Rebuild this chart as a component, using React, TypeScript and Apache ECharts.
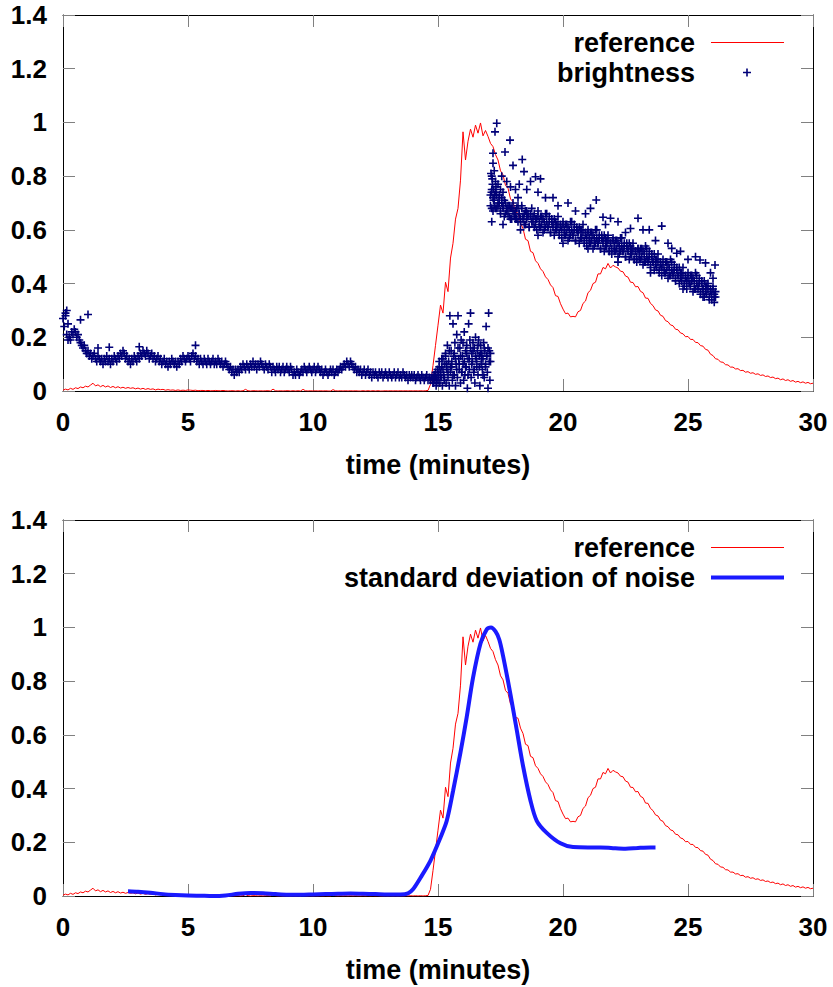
import React, { useEffect, useRef } from "react";
import * as echarts from "echarts";

// ---------- DATA ----------
// reference curve, sampled every 0.1 min from 0 to 30
const REF_START = 0;
const REF_STEP = 0.1;
const referenceValues = [
  0.003,0.007,0.004,0.010,0.006,0.012,0.009,0.015,0.012,0.018,
  0.015,0.022,0.029,0.019,0.023,0.016,0.021,0.015,0.019,0.013,
  0.017,0.012,0.016,0.011,0.014,0.010,0.013,0.010,0.012,0.008,
  0.011,0.007,0.010,0.006,0.009,0.006,0.008,0.004,0.007,0.005,
  0.006,0.003,0.005,0.003,0.004,0.002,0.004,0.002,0.003,0.002,
  0.004,0.003,0.002,0.003,0.001,0.002,0.002,0.001,0.002,0.001,
  0.001,0.002,0.001,0.001,0.002,0.001,0.000,0.001,0.001,0.000,
  0.001,0.000,0.001,0.006,0.001,0.000,0.001,0.001,0.000,0.001,
  0.000,0.001,0.001,0.000,0.007,0.001,0.000,0.001,0.000,0.001,
  0.001,0.000,0.001,0.000,0.001,0.000,0.006,0.001,0.000,0.001,
  0.000,0.001,0.000,0.001,0.000,0.001,0.000,0.000,0.005,0.001,
  0.000,0.001,0.000,0.001,0.000,0.001,0.000,0.001,0.000,0.000,
  0.001,0.000,0.001,0.000,0.001,0.000,0.001,0.000,0.000,0.001,
  0.000,0.001,0.000,0.001,0.000,0.001,0.000,0.001,0.000,0.001,
  0.000,0.001,0.000,0.001,0.000,0.001,0.002,0.025,0.095,0.170,
  0.245,0.320,0.290,0.405,0.370,0.495,0.550,0.640,0.680,0.785,
  0.965,0.860,0.930,0.975,0.945,0.990,0.960,0.998,0.950,0.970,
  0.948,0.922,0.910,0.880,0.860,0.820,0.805,0.765,0.755,0.715,
  0.705,0.665,0.662,0.625,0.605,0.565,0.560,0.520,0.515,0.485,
  0.475,0.455,0.445,0.425,0.415,0.395,0.385,0.355,0.352,0.325,
  0.305,0.288,0.290,0.276,0.278,0.276,0.295,0.300,0.326,0.335,
  0.366,0.375,0.400,0.405,0.436,0.436,0.460,0.455,0.475,0.458,
  0.468,0.462,0.458,0.446,0.444,0.428,0.424,0.405,0.404,0.388,
  0.389,0.371,0.366,0.346,0.345,0.326,0.318,0.302,0.298,0.282,
  0.278,0.262,0.258,0.246,0.243,0.230,0.228,0.216,0.213,0.202,
  0.203,0.192,0.192,0.181,0.180,0.169,0.167,0.155,0.152,0.137,
  0.132,0.120,0.118,0.108,0.107,0.098,0.097,0.089,0.089,0.082,
  0.083,0.076,0.077,0.070,0.072,0.066,0.068,0.062,0.064,0.058,
  0.060,0.054,0.056,0.050,0.052,0.046,0.048,0.042,0.045,0.039,
  0.042,0.036,0.039,0.033,0.036,0.031,0.034,0.029,0.032,0.027,
  0.029,
];

// brightness: steady band, sampled every 0.05 min from 0 to 14.8
const BAND_START = 0;
const BAND_STEP = 0.05;
const bandValues = [
  0.27,0.24,0.28,0.21,0.19,0.20,0.19,0.22,0.21,0.23,0.22,0.20,0.21,0.19,0.18,0.17,0.16,0.17,0.15,0.14,
  0.15,0.13,0.14,0.12,0.13,0.14,0.12,0.11,0.13,0.12,0.11,0.12,0.10,0.12,0.11,0.13,0.11,0.12,0.10,0.12,
  0.11,0.13,0.12,0.11,0.13,0.12,0.14,0.13,0.15,0.14,0.12,0.13,0.11,0.12,0.10,0.12,0.11,0.13,0.12,0.11,
  0.13,0.12,0.14,0.13,0.15,0.14,0.13,0.15,0.14,0.12,0.13,0.14,0.12,0.13,0.11,0.12,0.13,0.11,0.12,0.10,
  0.11,0.12,0.10,0.11,0.09,0.11,0.10,0.12,0.11,0.10,0.11,0.09,0.11,0.10,0.12,0.11,0.13,0.12,0.11,0.12,
  0.13,0.12,0.11,0.13,0.14,0.12,0.13,0.11,0.12,0.10,0.12,0.11,0.10,0.12,0.11,0.10,0.12,0.11,0.10,0.11,
  0.12,0.10,0.11,0.10,0.12,0.11,0.10,0.11,0.09,0.10,0.11,0.10,0.09,0.08,0.09,0.07,0.08,0.06,0.08,0.07,
  0.08,0.07,0.09,0.08,0.10,0.09,0.08,0.10,0.09,0.08,0.10,0.09,0.11,0.09,0.10,0.08,0.10,0.09,0.11,0.10,
  0.09,0.08,0.10,0.09,0.08,0.10,0.09,0.07,0.09,0.08,0.07,0.09,0.08,0.09,0.07,0.08,0.09,0.07,0.08,0.09,
  0.08,0.07,0.09,0.08,0.06,0.07,0.06,0.08,0.07,0.06,0.07,0.08,0.07,0.09,0.08,0.07,0.08,0.09,0.08,0.07,
  0.08,0.09,0.07,0.08,0.09,0.08,0.07,0.08,0.06,0.07,0.08,0.07,0.06,0.07,0.08,0.07,0.08,0.06,0.07,0.08,
  0.07,0.08,0.09,0.08,0.09,0.10,0.09,0.11,0.10,0.09,0.11,0.10,0.09,0.08,0.09,0.07,0.08,0.07,0.08,0.06,
  0.07,0.08,0.06,0.07,0.08,0.06,0.07,0.05,0.07,0.06,0.07,0.06,0.05,0.07,0.06,0.07,0.05,0.06,0.07,0.06,
  0.05,0.07,0.06,0.05,0.06,0.07,0.05,0.06,0.07,0.05,0.06,0.05,0.07,0.06,0.05,0.06,0.04,0.06,0.05,0.06,
  0.05,0.06,0.04,0.05,0.06,0.05,0.04,0.06,0.05,0.04,0.05,0.06,0.04,0.05,0.04,0.05,0.03,
];

// brightness: noisy low cloud between 14.8 and 17.1 min
const LOW_START = 14.8;
const LOW_STEP_A = 0.025;
const lowCloudA = [
  0.05,0.03,0.06,0.04,0.07,0.02,0.05,0.08,0.04,0.06,
  0.11,0.03,0.07,0.05,0.09,0.02,0.12,0.06,0.04,0.10,
  0.14,0.03,0.08,0.17,0.05,0.11,0.02,0.28,0.07,0.15,
  0.09,0.04,0.25,0.13,0.06,0.18,0.02,0.10,0.21,0.05,
  0.28,0.12,0.08,0.16,0.03,0.19,0.07,0.13,0.10,0.04,
  0.22,0.06,0.15,0.09,0.17,0.01,0.12,0.25,0.08,0.19,
  0.29,0.05,0.14,0.11,0.18,0.07,0.16,0.03,0.20,0.12,
  0.09,0.15,0.06,0.19,0.13,0.02,0.17,0.10,0.14,0.08,
  0.12,0.18,0.05,0.15,0.09,0.24,0.13,0.07,0.16,0.29,
  0.11,0.04,0.14,
];
const LOW_STEP_B = 0.05;
const lowCloudB = [
  0.04,0.06,0.05,0.03,0.07,0.09,0.06,0.12,0.08,0.05,
  0.13,0.10,0.07,0.15,0.09,0.11,0.06,0.14,0.12,0.08,
  0.16,0.10,0.13,0.07,0.18,0.11,0.09,0.14,0.06,0.12,
  0.16,0.10,0.15,0.08,0.13,0.11,0.17,0.09,0.14,0.12,
  0.06,0.16,0.10,0.13,0.01,0.15,0.11,
];

// brightness: decaying cloud between 17.1 and 26.1 min (two interleaved readings)
const HIGH_START = 17.1;
const HIGH_STEP = 0.05;
const highCloudA = [
  0.73,0.68,0.72,0.69,0.74,0.68,0.70,0.72,0.66,0.70,0.68,0.71,0.66,0.68,0.66,0.69,0.64,0.68,0.70,0.65,
  0.67,0.64,0.69,0.66,0.63,0.68,0.65,0.62,0.67,0.64,0.66,0.61,0.65,0.68,0.63,0.66,0.62,0.64,0.67,0.61,
  0.65,0.62,0.64,0.60,0.66,0.63,0.61,0.65,0.59,0.63,0.61,0.64,0.60,0.62,0.65,0.59,0.62,0.60,0.63,0.58,
  0.62,0.59,0.61,0.57,0.63,0.60,0.58,0.62,0.56,0.60,0.59,0.61,0.57,0.60,0.62,0.56,0.59,0.57,0.60,0.55,
  0.59,0.56,0.58,0.54,0.60,0.57,0.55,0.58,0.53,0.57,0.55,0.58,0.54,0.56,0.58,0.52,0.55,0.53,0.57,0.52,
  0.56,0.53,0.55,0.51,0.57,0.54,0.52,0.55,0.50,0.54,0.52,0.55,0.51,0.53,0.55,0.49,0.52,0.50,0.53,0.49,
  0.53,0.50,0.52,0.48,0.54,0.50,0.49,0.52,0.47,0.50,0.48,0.51,0.47,0.49,0.51,0.45,0.48,0.46,0.49,0.44,
  0.48,0.45,0.47,0.43,0.49,0.45,0.44,0.47,0.42,0.45,0.43,0.46,0.42,0.44,0.46,0.40,0.43,0.41,0.44,0.40,
  0.43,0.41,0.42,0.38,0.44,0.40,0.39,0.42,0.37,0.40,0.38,0.41,0.37,0.39,0.40,0.35,0.38,0.36,0.39,0.35,
  0.37,
];
const highCloudB = [
  0.69,0.75,0.67,0.71,0.68,0.73,0.69,0.70,0.67,0.72,0.69,0.65,0.70,0.67,0.69,0.65,0.68,0.64,0.67,0.66,
  0.64,0.68,0.63,0.66,0.64,0.69,0.64,0.66,0.62,0.67,0.65,0.61,0.66,0.63,0.65,0.61,0.64,0.60,0.65,0.63,
  0.61,0.65,0.59,0.63,0.61,0.66,0.61,0.63,0.59,0.64,0.62,0.58,0.63,0.60,0.62,0.58,0.61,0.57,0.62,0.60,
  0.58,0.62,0.56,0.60,0.58,0.63,0.58,0.60,0.56,0.61,0.59,0.55,0.60,0.57,0.59,0.55,0.58,0.54,0.59,0.57,
  0.55,0.59,0.53,0.57,0.55,0.60,0.55,0.57,0.53,0.58,0.56,0.52,0.57,0.54,0.56,0.52,0.55,0.51,0.56,0.54,
  0.52,0.56,0.50,0.54,0.52,0.57,0.52,0.54,0.50,0.55,0.53,0.49,0.54,0.51,0.53,0.49,0.52,0.48,0.53,0.51,
  0.49,0.53,0.47,0.51,0.48,0.53,0.48,0.50,0.46,0.51,0.48,0.45,0.49,0.46,0.48,0.44,0.47,0.43,0.47,0.45,
  0.44,0.48,0.42,0.46,0.43,0.48,0.43,0.45,0.41,0.46,0.43,0.40,0.44,0.41,0.43,0.39,0.42,0.38,0.42,0.40,
  0.39,0.43,0.37,0.41,0.38,0.43,0.38,0.40,0.36,0.41,0.38,0.35,0.39,0.36,0.38,0.34,0.37,0.34,0.38,0.36,
  0.35,
];

// brightness: isolated readings [time, value]
const brightnessOutliers = [
  [0.1,0.29],[0.15,0.30],[0.2,0.25],[0.7,0.265],[1.0,0.285],[1.4,0.16],[1.85,0.163],[3.05,0.165],[5.3,0.17],
  [17.35,0.997],[17.28,0.965],[17.88,0.934],[17.2,0.885],[17.68,0.89],[18.37,0.862],[17.2,0.848],[18.44,0.817],
  [18.0,0.84],[17.15,0.80],[17.25,0.82],[17.18,0.77],[17.3,0.78],[17.22,0.75],[17.4,0.77],[17.55,0.80],
  [17.75,0.78],[17.6,0.74],[17.9,0.76],[18.1,0.75],[18.25,0.77],[18.55,0.75],[18.2,0.72],[18.7,0.78],
  [18.9,0.798],[19.1,0.79],[19.0,0.74],[19.3,0.72],[19.6,0.72],[19.8,0.69],[20.2,0.70],[20.5,0.67],
  [20.9,0.66],[21.33,0.711],[21.1,0.68],[21.6,0.647],[21.9,0.643],[21.7,0.62],[22.2,0.63],[22.7,0.605],
  [22.5,0.59],[23.0,0.643],[23.2,0.60],[23.45,0.60],[23.95,0.614],[23.7,0.56],[24.35,0.531],[24.55,0.513],
  [24.2,0.55],[24.7,0.52],[25.0,0.49],[25.3,0.50],[25.48,0.488],[25.7,0.477],[26.08,0.469],[25.9,0.44],
  [26.0,0.42],[17.15,0.63],[17.6,0.62],[18.3,0.60],[19.0,0.58],[20.0,0.55],[21.0,0.53],[22.2,0.48],
  [23.5,0.44],[24.8,0.38],[25.6,0.35],[26.05,0.33],[17.12,0.81],[17.17,0.79],[17.22,0.71],[17.27,0.73],
  [17.32,0.76],[17.14,0.74],[17.45,0.73],[17.5,0.75],
];

// standard deviation of noise [time, value]
const stdDevNoise = [
  [2.6,0.018],[3.0,0.016],[3.5,0.012],[4.0,0.007],[4.5,0.004],[5.0,0.002],[5.5,0.001],[6.0,0.000],
  [6.5,0.002],[7.0,0.008],[7.5,0.011],[8.0,0.010],[8.5,0.007],[9.0,0.005],[9.5,0.005],[10.0,0.006],
  [10.5,0.007],[11.0,0.008],[11.5,0.009],[12.0,0.008],[12.5,0.007],[13.0,0.006],[13.5,0.006],[13.8,0.010],
  [14.0,0.025],[14.3,0.068],[14.7,0.132],[15.1,0.218],[15.35,0.28],[15.6,0.39],[15.9,0.535],[16.15,0.667],
  [16.4,0.812],[16.7,0.94],[16.95,0.993],[17.12,1.0],[17.3,0.985],[17.45,0.955],[17.6,0.895],[17.9,0.75],
  [18.15,0.618],[18.4,0.485],[18.7,0.355],[18.95,0.28],[19.35,0.235],[19.9,0.196],[20.4,0.182],[21.0,0.181],
  [21.5,0.181],[22.0,0.178],[22.5,0.176],[23.0,0.179],[23.5,0.181],[23.7,0.181],
];

const X_MIN = 0, X_MAX = 30, X_INTERVAL = 5;
const Y_MIN = 0, Y_MAX = 1.4, Y_INTERVAL = 0.2;
const X_TITLE = "time (minutes)";

// ---------- helpers ----------
const r3 = (v: number) => Math.round(v * 1000) / 1000;
const seq = (start: number, step: number, vals: number[]) =>
  vals.map((v, i) => [r3(start + i * step), v]);

const FONT = '"Liberation Sans", Arial, Helvetica, sans-serif';
const PLUS = "path://M3.2,0h1.6v3.2h3.2v1.6h-3.2v3.2h-1.6v-3.2h-3.2v-1.6h3.2z";
const NAVY = "#000078";

export default function App() {
  const ref = useRef<HTMLDivElement>(null);
  useEffect(() => {
    document.body.style.margin = "0";
    const chart = echarts.init(ref.current!, null, { renderer: "svg" });

    const refData = seq(REF_START, REF_STEP, referenceValues);
    const brightData = [
      ...seq(BAND_START, BAND_STEP, bandValues),
      ...seq(LOW_START, LOW_STEP_A, lowCloudA),
      ...seq(LOW_START, LOW_STEP_B, lowCloudB),
      ...seq(HIGH_START, HIGH_STEP, highCloudA),
      ...seq(HIGH_START, HIGH_STEP, highCloudB),
      ...brightnessOutliers,
    ];

    const labelStyle = { fontSize: 26, fontWeight: "bold", color: "#000", fontFamily: FONT };
    const bigStyle = { fontSize: 27, fontWeight: "bold", color: "#000", fontFamily: FONT };
    const tick = { show: true, inside: true, length: 12, lineStyle: { color: "#808080", width: 1 } };
    const line = { show: true, onZero: false, lineStyle: { color: "#000", width: 1 } };

    const xAxes: any[] = [];
    const yAxes: any[] = [];
    [0, 1].forEach((g) => {
      xAxes.push({
        gridIndex: g, type: "value", min: X_MIN, max: X_MAX, interval: X_INTERVAL, position: "bottom",
        axisLine: line, axisTick: tick, splitLine: { show: false },
        axisLabel: { ...labelStyle, margin: 18 },
        name: X_TITLE, nameLocation: "middle", nameGap: 60,
        nameTextStyle: { ...bigStyle },
      });
      xAxes.push({
        gridIndex: g, type: "value", min: X_MIN, max: X_MAX, interval: X_INTERVAL, position: "top",
        axisLine: line, axisTick: tick, splitLine: { show: false }, axisLabel: { show: false },
      });
      yAxes.push({
        gridIndex: g, type: "value", min: Y_MIN, max: Y_MAX, interval: Y_INTERVAL, position: "left",
        axisLine: line, axisTick: tick, splitLine: { show: false },
        axisLabel: { ...labelStyle, margin: 16 },
      });
      yAxes.push({
        gridIndex: g, type: "value", min: Y_MIN, max: Y_MAX, interval: Y_INTERVAL, position: "right",
        axisLine: line, axisTick: tick, splitLine: { show: false }, axisLabel: { show: false },
      });
    });

    const legendText = (pad: number) => ({ ...bigStyle, padding: [0, pad, 0, 0] });

    chart.setOption({
      animation: false,
      backgroundColor: "#fff",
      grid: [
        { left: 63, top: 15, width: 750, height: 376 },
        { left: 63, top: 520, width: 750, height: 376 },
      ],
      xAxis: xAxes,
      yAxis: yAxes,
      legend: [
        { data: [{ name: "reference", icon: "rect" }], right: 49, top: 29, padding: 0, align: "right",
          itemWidth: 73, itemHeight: 1, selectedMode: false, textStyle: legendText(11) },
        { data: ["brightness"], right: 82, top: 59, padding: 0, align: "right", itemWidth: 8, itemHeight: 8,
          selectedMode: false, textStyle: legendText(43) },
        { data: [{ name: "reference", icon: "rect" }], right: 49, top: 534, padding: 0, align: "right",
          itemWidth: 73, itemHeight: 1, selectedMode: false, textStyle: legendText(11) },
        { data: [{ name: "standard deviation of noise", icon: "rect" }], right: 49, top: 564, padding: 0,
          align: "right", itemWidth: 73, itemHeight: 4, selectedMode: false, textStyle: legendText(11) },
      ],
      series: [
        {
          name: "reference", type: "line", xAxisIndex: 0, yAxisIndex: 0, data: refData,
          symbol: "none", color: "#ff0000", lineStyle: { color: "#ff0000", width: 1 }, z: 2,
        },
        {
          name: "brightness", type: "scatter", xAxisIndex: 0, yAxisIndex: 0, data: brightData,
          symbol: PLUS, symbolSize: 8, color: NAVY, itemStyle: { color: NAVY, opacity: 1 },
          progressive: 0, large: false, z: 3,
        },
        {
          name: "reference", type: "line", xAxisIndex: 2, yAxisIndex: 2, data: refData,
          symbol: "none", color: "#ff0000", lineStyle: { color: "#ff0000", width: 1 }, z: 2,
        },
        {
          name: "standard deviation of noise", type: "line", xAxisIndex: 2, yAxisIndex: 2, data: stdDevNoise,
          symbol: "none", smooth: 0.3, color: "#1a1aff", lineStyle: { color: "#1a1aff", width: 4 }, z: 3,
        },
      ],
    });
    return () => chart.dispose();
  }, []);
  return <div ref={ref} style={{ width: 833, height: 987 }} />;
}
